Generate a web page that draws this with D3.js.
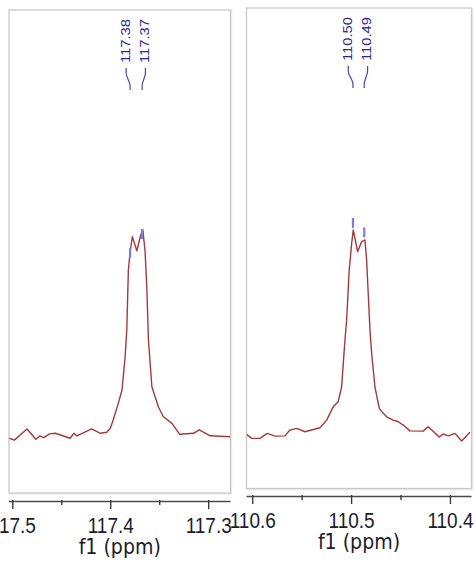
<!DOCTYPE html>
<html><head><meta charset="utf-8">
<script src="https://cdn.jsdelivr.net/npm/d3@7"></script>
<style>html,body{margin:0;padding:0;background:#fff;overflow:hidden}svg{display:block}</style>
</head><body>
<svg id="c" width="476" height="562"></svg>
<script>
// ---- data (chemical shift in ppm, intensity in arbitrary units) ----
const leftPpm = [117.503,117.498,117.485,117.476,117.472,117.468,117.462,117.456,117.441,117.437,117.434,117.419,117.410,117.4035,117.400,117.397,117.392,117.388,117.3848,117.3831,117.3815,117.3797,117.3774,117.3729,117.3688,117.3667,117.3644,117.3627,117.361,117.3575,117.3524,117.3508,117.3457,117.337,117.329,117.315,117.309,117.298,117.2775];
const leftInt = [-0.6,-1.5,3.9,-1.1,0.5,-0.3,1.5,1.8,-0.6,1.8,0.5,3.9,1.8,2.3,4.2,8.2,15.9,22.7,38.8,51.7,80.7,89.5,96.8,90.0,97.6,100.0,89.5,72.6,46.9,24.3,16.9,14.5,9.8,6.6,1.3,1.8,3.4,0.6,0.1];
const rightPpm = [110.6057,110.6006,110.5922,110.5848,110.577,110.5669,110.5619,110.5551,110.5467,110.5315,110.5247,110.5181,110.513,110.5096,110.5079,110.5062,110.5045,110.5019,110.4994,110.4978,110.4934,110.4893,110.486,110.4843,110.4827,110.4809,110.4792,110.4759,110.4715,110.4675,110.464,110.4574,110.4523,110.4472,110.4405,110.427,110.422,110.4108,110.4068,110.4017,110.3949,110.3882,110.3798];
const rightInt = [1.3,-0.6,-0.6,1.8,0.5,0.6,3.4,4.2,2.6,4.5,8.2,14.6,17.1,24.3,35.6,46.9,56.5,80.7,93.6,100.0,89.5,94.4,95.2,85.5,69.4,51.7,40.4,24.3,13.9,11.5,9.8,8.2,7.4,5.8,3.0,2.9,5.0,0.1,1.5,0.6,1.8,-1.9,2.3];

const leftTicks = [117.5, 117.4, 117.3];
const leftMinor = [117.45, 117.35];
const rightTicks = [110.6, 110.5, 110.4];
const rightMinor = [110.55, 110.45];

const leftPeakLabels = ["117.38", "117.37"];
const leftLabelPpm = [117.3838, 117.3641];
const leftPeakPpm = [117.3797, 117.3675];
const leftMarkInt = [88.9, 98.1];
const rightPeakLabels = ["110.50", "110.49"];
const rightLabelPpm = [110.5029, 110.4833];
const rightPeakPpm = [110.4981, 110.4867];
const rightMarkInt = [103.4, 98.8];

const axisTitle = "f1 (ppm)";

// ---- drawing ----
const svg = d3.select("#c");
const STRETCH = 1.2;

function panel(cfg) {
  const g = svg.append("g");
  const x = d3.scaleLinear().domain(cfg.xDomain).range([cfg.left, cfg.right]);
  const y = d3.scaleLinear().domain(cfg.yDomain).range([cfg.bottom, cfg.top]);
  const id = "clip" + cfg.name;
  svg.append("clipPath").attr("id", id).append("rect")
    .attr("x", cfg.left).attr("y", cfg.top).attr("width", cfg.right - cfg.left).attr("height", cfg.bottom - cfg.top);

  // frame
  g.append("rect").attr("x", cfg.left + 1).attr("y", cfg.top + 1)
    .attr("width", cfg.right - cfg.left).attr("height", cfg.bottom - cfg.top)
    .attr("fill", "none").attr("stroke", "#ececec").attr("stroke-width", 1.5);
  g.append("rect").attr("x", cfg.left).attr("y", cfg.top)
    .attr("width", cfg.right - cfg.left).attr("height", cfg.bottom - cfg.top)
    .attr("fill", "#fff").attr("stroke", "#c9c9c9").attr("stroke-width", 1.3);

  // spectrum
  const pts = cfg.ppm.map((p, i) => [p, cfg.int[i]]);
  g.append("path").datum(pts).attr("clip-path", `url(#${id})`)
    .attr("d", d3.line().x(d => x(d[0])).y(d => y(d[1])))
    .attr("fill", "none").attr("stroke", "#a33a3a").attr("stroke-width", 1.4)
    .attr("stroke-linejoin", "round");

  // peak markers
  g.selectAll(".mk").data(cfg.peakPpm).enter().append("line")
    .attr("x1", d => x(d)).attr("x2", d => x(d))
    .attr("y1", (d, i) => y(cfg.markInt[i]) - 5).attr("y2", (d, i) => y(cfg.markInt[i]) + 5)
    .attr("stroke", "#7c7ce0").attr("stroke-width", 2.2);

  // peak labels with connectors
  cfg.labels.forEach((t, i) => {
    const lx = x(cfg.labelPpm[i]), px = x(cfg.peakPpm[i]);
    g.append("path")
      .attr("d", d3.line().curve(d3.curveBasis)([[lx, cfg.top + 58], [lx, cfg.top + 63], [lx, cfg.top + 65], [px, cfg.top + 74], [px, cfg.top + 76], [px, cfg.top + 80]]))
      .attr("fill", "none").attr("stroke", "#4848a8").attr("stroke-width", 1.2);
    g.append("text")
      .attr("transform", `translate(${lx - 1},${cfg.top + 53}) scale(1,${STRETCH}) rotate(-90)`)
      .attr("dy", "0.36em")
      .attr("font-family", "Liberation Sans, Arial, sans-serif").attr("font-size", 12.3)
      .attr("fill", "#28288e").text(t);
  });

  // axis
  const ax = g.append("g").attr("transform", `translate(0,${cfg.axisY})`)
    .call(d3.axisBottom(x).tickValues(cfg.ticks).tickSize(8).tickSizeOuter(0).tickFormat(d3.format(".1f")));
  ax.select(".domain").attr("stroke", "#4a4a4a").attr("stroke-width", 1.4)
    .attr("d", `M${cfg.left},0.5H${cfg.right}`);
  ax.selectAll(".tick line").attr("stroke", "#3a3a3a").attr("stroke-width", 1.4).attr("y1", -1);
  ax.selectAll(".tick text")
    .attr("y", null).attr("dy", null)
    .attr("transform", `translate(0,${cfg.tickLabelDy}) scale(1,${STRETCH})`)
    .attr("font-family", "Liberation Sans, Arial, sans-serif").attr("font-size", 19)
    .attr("fill", "#1c1c2c");
  const mn = g.append("g").attr("transform", `translate(0,${cfg.axisY})`)
    .call(d3.axisBottom(x).tickValues(cfg.minor).tickSize(4).tickSizeOuter(0).tickFormat(""));
  mn.select(".domain").remove();
  mn.selectAll(".tick line").attr("stroke", "#3a3a3a").attr("stroke-width", 1.4).attr("y1", -1);

  g.append("text")
    .attr("transform", `translate(${(cfg.left + cfg.right) / 2},${cfg.titleY}) scale(1,1.12)`)
    .attr("text-anchor", "middle")
    .attr("font-family", "DejaVu Sans, Verdana, sans-serif").attr("font-size", 19)
    .attr("fill", "#1c1c2c").text(axisTitle);
}

panel({
  name: "L", left: 9, right: 230.5, top: 10, bottom: 493,
  xDomain: [117.5034, 117.2772], yDomain: [-27.05, 206.3],
  ppm: leftPpm, int: leftInt, ticks: leftTicks, minor: leftMinor,
  labels: leftPeakLabels, labelPpm: leftLabelPpm, peakPpm: leftPeakPpm, markInt: leftMarkInt,
  axisY: 501, tickLabelDy: 32, titleY: 554
});
panel({
  name: "R", left: 246.5, right: 471.5, top: 8, bottom: 488.5,
  xDomain: [110.6058, 110.3782], yDomain: [-24.8, 207.1],
  ppm: rightPpm, int: rightInt, ticks: rightTicks, minor: rightMinor,
  labels: rightPeakLabels, labelPpm: rightLabelPpm, peakPpm: rightPeakPpm, markInt: rightMarkInt,
  axisY: 496, tickLabelDy: 32, titleY: 549
});
</script>
</body></html>
